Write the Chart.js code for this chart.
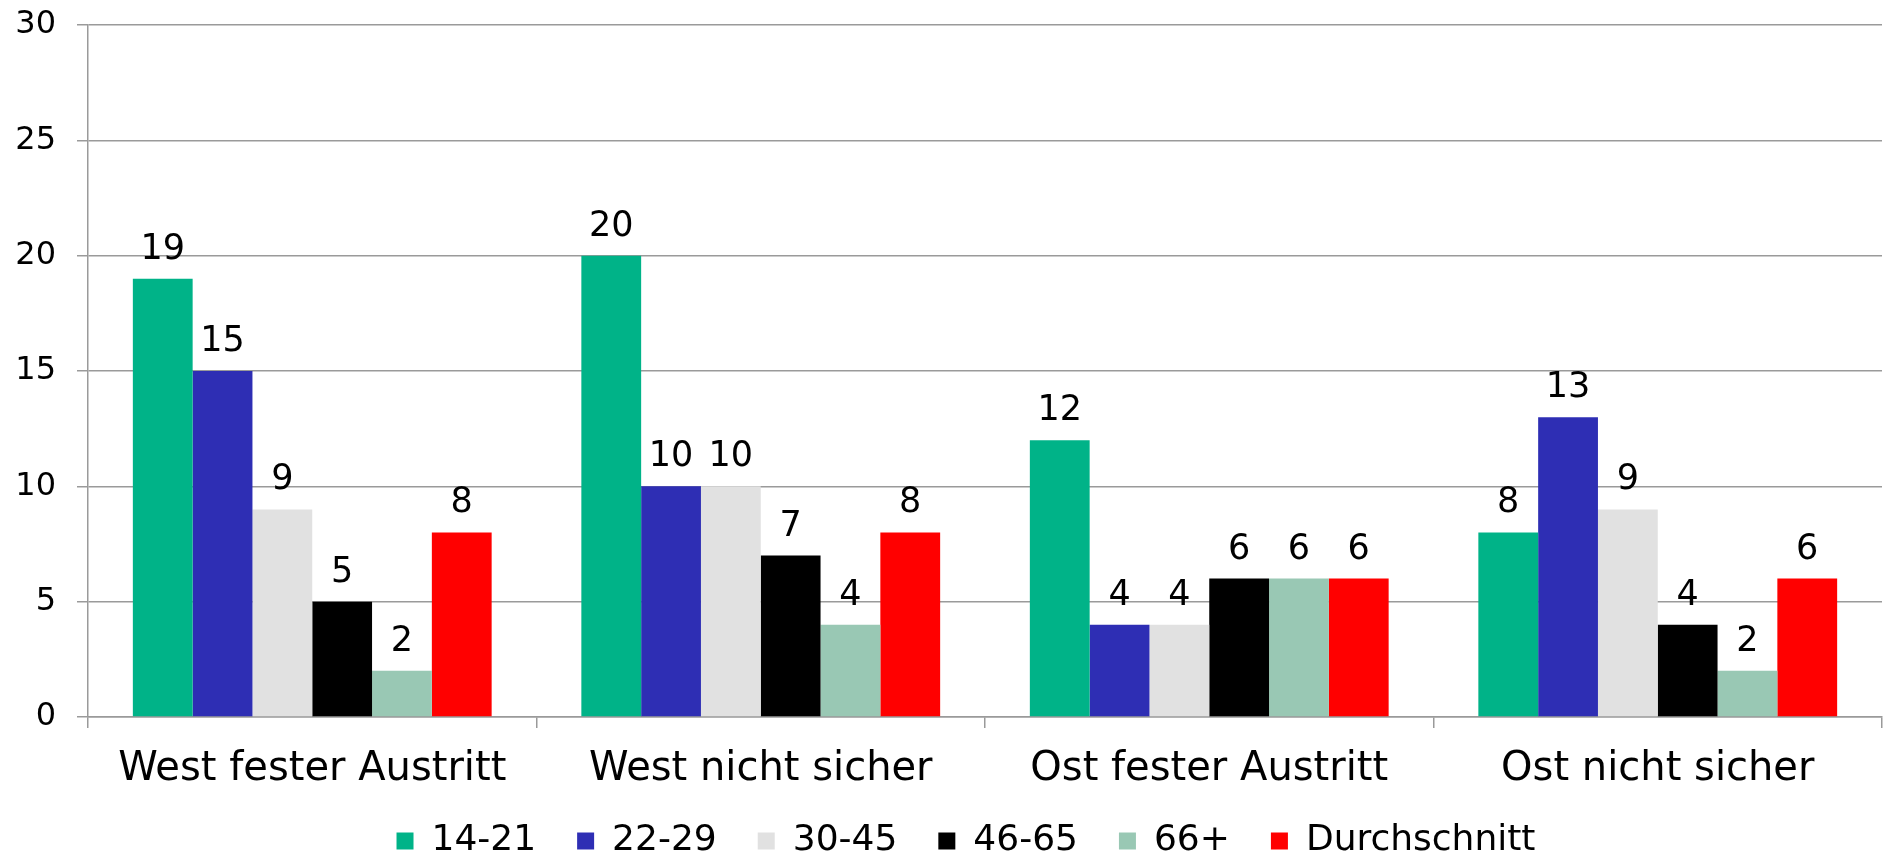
<!DOCTYPE html>
<html>
<head>
<meta charset="utf-8">
<script src="https://cdn.jsdelivr.net/npm/chart.js@4.4.1/dist/chart.umd.min.js"></script>
<style>
  body { margin: 0; background: #fff; }
  #wrap { width: 1884px; height: 855px; position: relative; }
</style>
</head>
<body>
<div id="wrap"><canvas id="theGraph"></canvas></div>
<script>
// categories on the x-axis
var groups = ["West fester Austritt", "West nicht sicher", "Ost fester Austritt", "Ost nicht sicher"];
// age groups (series)
var ages = ["14-21", "22-29", "30-45", "46-65", "66+", "Durchschnitt"];
// values per series, one per group
var s1421 = [19, 20, 12, 8];
var s2229 = [15, 10, 4, 13];
var s3045 = [9, 10, 4, 9];
var s4665 = [5, 7, 6, 4];
var s66 = [2, 4, 6, 2];
var avg = [8, 8, 6, 6];
// y-axis ticks
var yTicks = [0, 5, 10, 15, 20, 25, 30];

var colors = ["#00b388", "#2e2eb4", "#e1e1e1", "#000000", "#99c8b4", "#ff0000"];
var values = [s1421, s2229, s3045, s4665, s66, avg];

var font = "'DejaVu Sans', Verdana, sans-serif";
var gridColor = "#9a9a9a";

// numbers above the bars
var valueLabels = {
    id: "valueLabels",
    afterDatasetsDraw: function (chart) {
        var ctx = chart.ctx;
        ctx.save();
        ctx.font = "35px " + font;
        ctx.fillStyle = "#000";
        ctx.textAlign = "center";
        ctx.textBaseline = "alphabetic";
        chart.data.datasets.forEach(function (ds, i) {
            chart.getDatasetMeta(i).data.forEach(function (bar, j) {
                ctx.fillText(ds.data[j], bar.x, bar.y - 20);
            });
        });
        ctx.restore();
    }
};

// legend sits a bit right of the canvas centre in the original,
// and the x labels must not be clipped by the short x scale box
var layoutFix = {
    id: "layoutFix",
    afterLayout: function (chart) {
        chart.legend.left += 25;
        chart.legend.right += 25;
        chart.scales.x.bottom += 40;
    }
};

var ctx = document.getElementById("theGraph");

var graph = new Chart(ctx, {
    type: 'bar',
    data: {
        labels: groups,
        datasets: ages.map(function (a, i) {
            return {
                label: a,
                data: values[i],
                backgroundColor: colors[i],
                borderWidth: 0,
                categoryPercentage: 0.8,
                barPercentage: 1.0
            };
        })
    },
    options: {
        responsive: true,
        maintainAspectRatio: false,
        animation: false,
        layout: { padding: { top: 0, right: 2, left: 0, bottom: -14 } },
        plugins: {
            tooltip: { enabled: false },
            legend: {
                position: 'bottom',
                labels: {
                    color: "#000",
                    font: { family: font, size: 36 },
                    boxWidth: 17,
                    boxHeight: 17,
                    padding: 41
                }
            }
        },
        scales: {
            x: {
                grid: {
                    offset: true,
                    drawOnChartArea: false,
                    color: gridColor,
                    lineWidth: 1.5,
                    tickLength: 11
                },
                border: { color: gridColor, width: 1.5 },
                ticks: {
                    color: "#000",
                    font: { family: font, size: 40 },
                    padding: 18,
                    maxRotation: 0
                },
                afterFit: function (scale) { scale.height = 65; }
            },
            y: {
                min: 0,
                max: 30,
                afterBuildTicks: function (scale) {
                    scale.ticks = yTicks.map(function (v) { return { value: v }; });
                },
                grid: {
                    color: gridColor,
                    lineWidth: 1.5,
                    tickLength: 11
                },
                border: { color: gridColor, width: 1.5 },
                ticks: {
                    color: "#000",
                    font: { family: font, size: 32, lineHeight: 0.25 },
                    padding: 21
                },
                afterFit: function (scale) { scale.width = 88; }
            }
        }
    },
    plugins: [valueLabels, layoutFix]
});
</script>
</body>
</html>
